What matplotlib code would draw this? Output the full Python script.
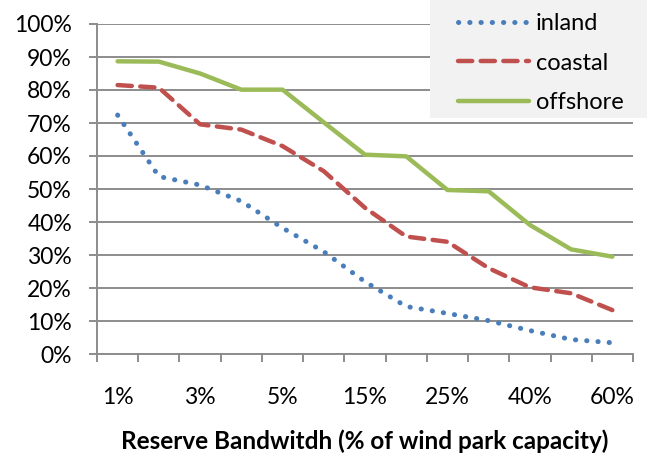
import matplotlib.pyplot as plt
from matplotlib.patches import Rectangle
import numpy as np

# categories on x (only every other one is labelled in the original)
bandwidth = ["1%", "2%", "3%", "4%", "5%", "10%", "15%", "20%", "25%", "30%", "40%", "50%", "60%"]
shown_labels = ["1%", "3%", "5%", "15%", "25%", "40%", "60%"]

# share of time reserve can be supplied (%)
inland = [72.4, 53.8, 51.2, 46.3, 38.2, 31.0, 21.9, 14.4, 12.3, 10.1, 7.1, 4.4, 3.4]
coastal = [81.5, 80.7, 69.6, 68.0, 63.0, 55.4, 44.3, 35.6, 34.0, 26.0, 20.2, 18.4, 13.3]
offshore = [88.7, 88.6, 85.0, 80.1, 80.1, 70.2, 60.4, 59.9, 49.7, 49.3, 39.1, 31.7, 29.5]

plt.rcParams["font.family"] = ["Lato", "DejaVu Sans"]

fig = plt.figure(figsize=(6.51, 4.61), dpi=100)
W, H = 651, 461
ax = fig.add_axes([97 / W, 1 - 354 / H, (633 - 97) / W, (354 - 24) / H])

x = np.arange(len(bandwidth))
ax.plot(x, inland, color="#4a7ebb", lw=3.6, linestyle=(0, (0.05, 2.2)),
        dash_capstyle="round", label="inland")
ax.plot(x, coastal, color="#c0504d", lw=3.2, linestyle=(0, (3.2, 1.9)),
        dash_capstyle="round", label="coastal")
ax.plot(x, offshore, color="#9bbb59", lw=3.2, solid_capstyle="round",
        solid_joinstyle="round", label="offshore")

ax.set_xlim(-0.5, len(bandwidth) - 0.5)
ax.set_ylim(0, 100)
ax.set_yticks(np.arange(0, 101, 10))
ax.set_yticklabels([f"{v}%" for v in range(0, 101, 10)], fontsize=16.5)
ax.grid(axis="y", color="#8c8c8c", lw=1.4)
ax.set_axisbelow(True)

# boundary ticks between categories, labels on every second category
ax.set_xticks(np.arange(-0.5, len(bandwidth), 1.0))
ax.set_xticklabels([])
ax.set_xticks(x[::2], minor=True)
ax.set_xticklabels(shown_labels, minor=True, fontsize=16.5)
ax.tick_params(axis="x", which="major", length=6, width=1.4, color="#8c8c8c", direction="out")
ax.tick_params(axis="x", which="minor", length=0, pad=24)
ax.tick_params(axis="y", length=6, width=1.4, color="#8c8c8c", pad=12)

for side in ["top", "right"]:
    ax.spines[side].set_visible(False)
for side in ["left", "bottom"]:
    ax.spines[side].set_color("#8c8c8c")
    ax.spines[side].set_linewidth(1.4)

ax.set_xlabel("Reserve Bandwitdh (% of wind park capacity)", fontsize=17.5,
              fontweight="bold", labelpad=15)

# grey legend background box
fig.patches.append(Rectangle((430 / W, 1 - 118 / H), (647 - 430) / W, 118 / H,
                             transform=fig.transFigure, facecolor="#f2f2f2",
                             edgecolor="none", zorder=3))
leg = fig.legend(loc="upper left", bbox_to_anchor=(451 / W, 1 - 6 / H), fontsize=17,
                 frameon=False, handlelength=3.0, handletextpad=0.3,
                 labelspacing=0.78, borderaxespad=0, borderpad=0.3)
leg.set_zorder(4)

fig.savefig("out.png", dpi=100)
